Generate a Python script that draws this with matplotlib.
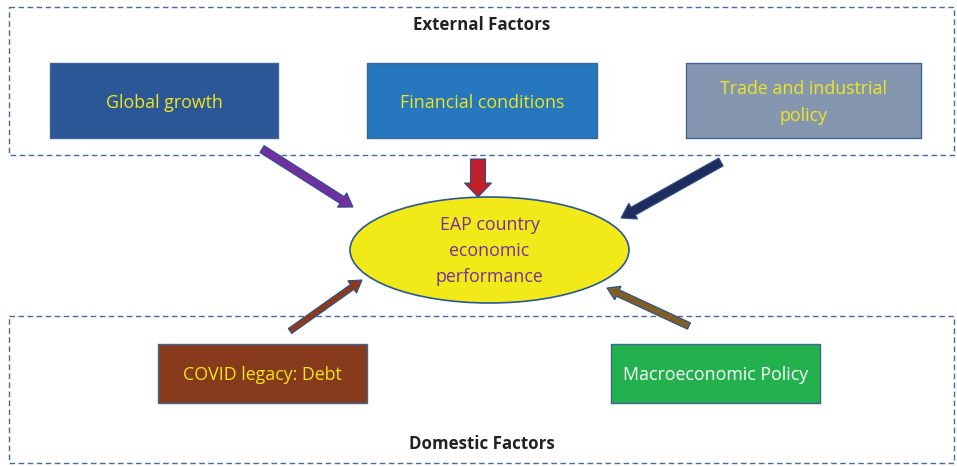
import matplotlib
matplotlib.use("Agg")
import matplotlib.pyplot as plt
from matplotlib.patches import Rectangle, Ellipse, FancyArrow

# ---- content ----
group_titles = ["External Factors", "Domestic Factors"]
factor_labels = ["Global growth", "Financial conditions", "Trade and industrial\npolicy",
                 "COVID legacy: Debt", "Macroeconomic Policy"]
center_label = "EAP country\neconomic\nperformance"

plt.rcParams['font.family'] = ['Open Sans', 'DejaVu Sans']

W, H = 957, 466
fig = plt.figure(figsize=(W / 100, H / 100), dpi=100)
ax = fig.add_axes([0, 0, 1, 1])
ax.set_xlim(0, W)
ax.set_ylim(H, 0)
ax.axis('off')

dash_col = '#4A6A9C'
# group frames
for (x0, y0, x1, y1) in [(9, 7, 954, 155), (9, 316, 954, 463)]:
    ax.add_patch(Rectangle((x0, y0), x1 - x0, y1 - y0, fill=False, ec=dash_col,
                           lw=1.0, ls=(0, (4, 2.5))))

ax.text(482, 25, group_titles[0], ha='center', va='center', fontsize=12.2,
        fontweight='bold', color='#222222')
ax.text(482, 444, group_titles[1], ha='center', va='center', fontsize=12.2,
        fontweight='bold', color='#222222')

# factor boxes
boxes = [
    (50, 63, 278, 138, '#2B5797', '#F0E61E'),
    (367, 63, 597, 138, '#2677BD', '#F0E61E'),
    (686, 63, 921, 138, '#8597B0', '#F0E61E'),
    (158, 344, 367, 403, '#873B1C', '#F0E61E'),
    (611, 344, 820, 403, '#22B14C', '#FFFFFF'),
]
for (x0, y0, x1, y1, fc, tc), lab in zip(boxes, factor_labels):
    ax.add_patch(Rectangle((x0, y0), x1 - x0, y1 - y0, fc=fc, ec='#3F6496', lw=1.0))
    ax.text((x0 + x1) / 2, (y0 + y1) / 2 + 2, lab, ha='center', va='center',
            fontsize=12.8, fontweight='medium', color=tc, linespacing=1.6)

# central ellipse
ax.add_patch(Ellipse((489.5, 250), 279, 106, fc='#F2EA18', ec='#2B5797', lw=1.2))
ax.text(489.5, 251, center_label, ha='center', va='center', fontsize=12.8,
        fontweight='medium', color='#7030A0', linespacing=1.55)

# arrows: (tail x, tail y, tip x, tip y, width, head width, head length, color)
arrows = [
    (262, 149, 353, 207, 8, 17, 13, '#7030A0'),
    (478, 159, 478, 197, 15, 27, 14, '#C0202A'),
    (721, 162, 621, 218, 9, 18, 14, '#1F2D5E'),
    (290, 331, 362, 280, 6, 15, 12, '#8B3A1C'),
    (689, 326, 607, 288, 7, 15, 12, '#7F5F28'),
]
for (x0, y0, x1, y1, w, hw, hl, c) in arrows:
    ax.add_patch(FancyArrow(x0, y0, x1 - x0, y1 - y0, width=w, head_width=hw,
                            head_length=hl, length_includes_head=True,
                            fc=c, ec='#2B4F8A', lw=0.8))

fig.savefig('out.png', dpi=100)
